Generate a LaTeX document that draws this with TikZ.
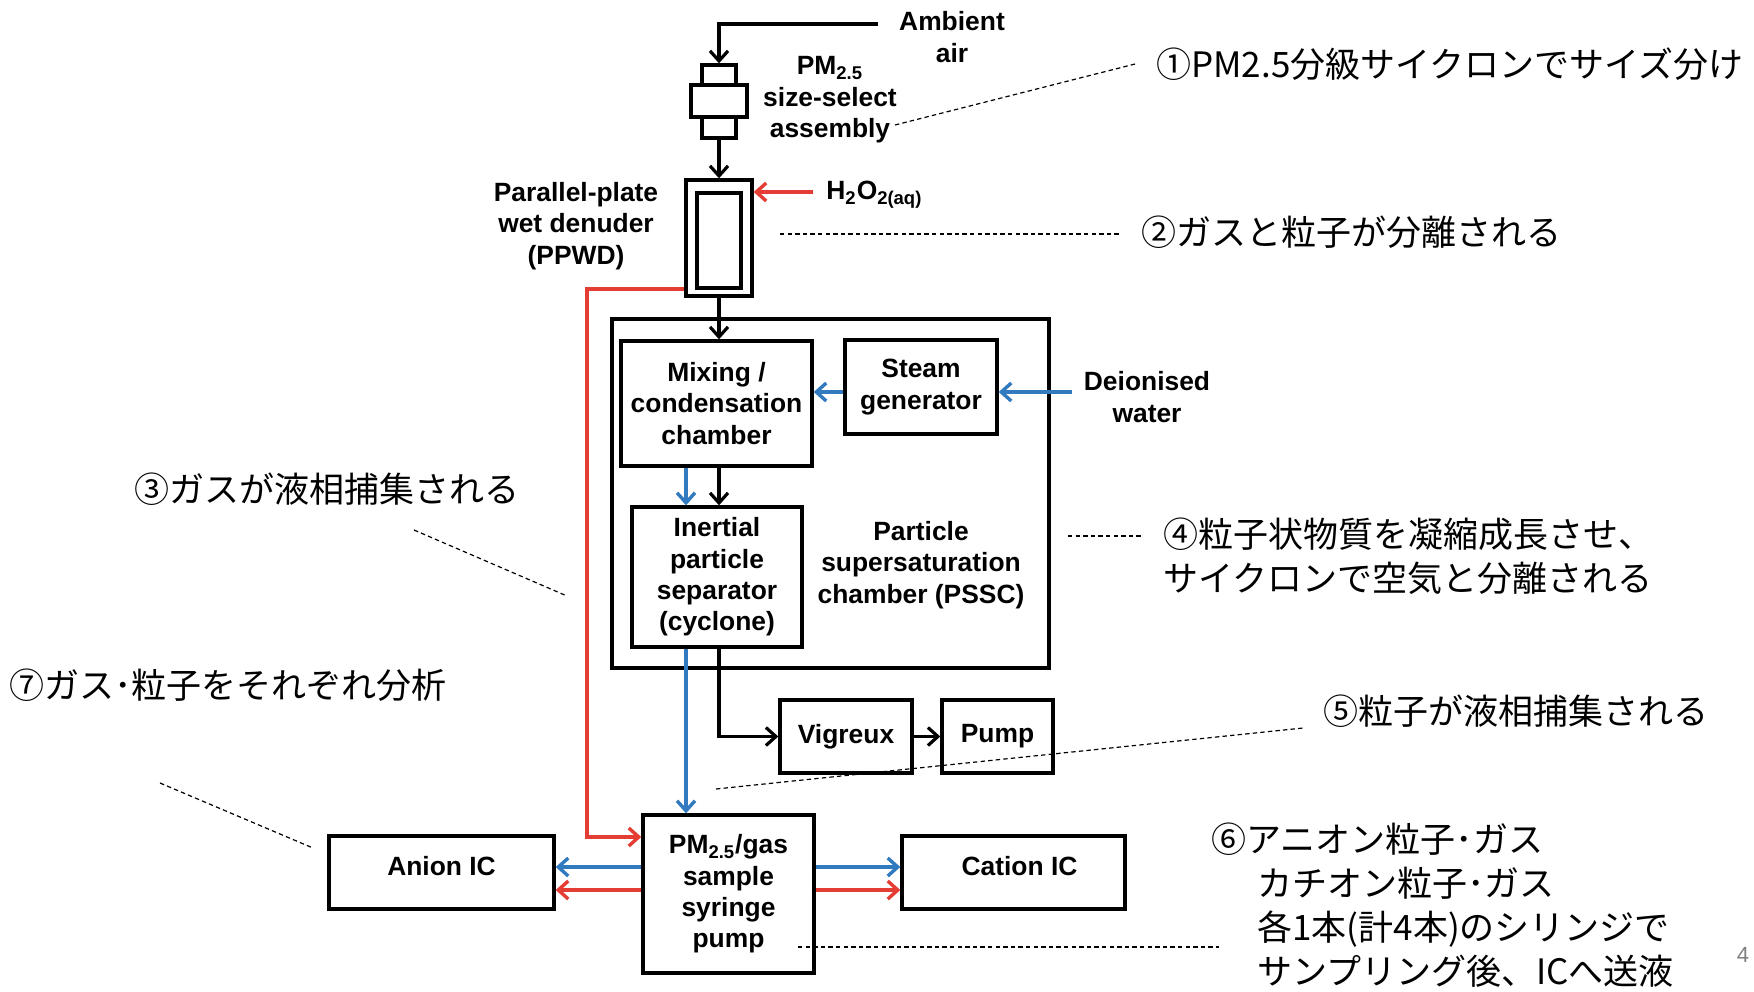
\documentclass[tikz,border=0pt]{standalone}
\usepackage{fontspec}
\setmainfont{Liberation Sans}
\newfontfamily\cjk{Noto Sans CJK JP}
\usetikzlibrary{arrows.meta}
\definecolor{redc}{RGB}{228,62,52}
\definecolor{bluec}{RGB}{50,122,192}
\newcommand{\lab}{\fontsize{13.2pt}{15.7pt}\selectfont\bfseries}
\tikzset{
  box/.style={draw, line width=1.7pt, inner sep=0pt, align=center, font=\lab},
  lbl/.style={inner sep=0pt, align=center, font=\lab},
  tip/.style={-{Straight Barb[length=5pt,width=9pt]}},
  blk/.style={line width=1.6pt, tip},
  redl/.style={draw=redc, line width=1.7pt, tip},
  blul/.style={draw=bluec, line width=1.7pt, tip},
  jp/.style={font=\cjk\fontsize{17.5pt}{22pt}\selectfont, anchor=west, inner sep=0pt, align=left},
  ann/.style={line width=0.6pt, dash pattern=on 2.2pt off 1.6pt},
}
\begin{document}
\begin{tikzpicture}[x=0.5pt,y=-0.5pt]
\fill[white] (0,0) rectangle (1754,991);
\useasboundingbox (0,0) rectangle (1754,991);

% boxes
\node[box, minimum width=218.5pt, minimum height=174.5pt] (pssc) at (830.5,493.5) {};
\node[box, minimum width=17pt, minimum height=10pt] (sstop) at (719,75) {};
\node[box, minimum width=28pt, minimum height=16pt] (ssmid) at (719,101) {};
\node[box, minimum width=17pt, minimum height=10.5pt] (ssbot) at (719,127.5) {};
\node[box, minimum width=33pt, minimum height=58pt] (ppwd) at (719,238) {};
\node[box, minimum width=22pt, minimum height=47.5pt] (ppwdin) at (719,240.5) {};
\node[box, minimum width=95.5pt, minimum height=62.5pt] (mix) at (716.5,403.5) {Mixing /\\condensation\\chamber};
\node[box, minimum width=76pt, minimum height=47pt] (steam) at (921,387) {Steam\\generator};
\node[box, minimum width=85pt, minimum height=70pt] (sep) at (717,577) {Inertial\\particle\\separator\\(cyclone)};
\node[box, minimum width=66pt, minimum height=36.5pt] (vig) at (846,736.5) {Vigreux};
\node[box, minimum width=55.5pt, minimum height=36.5pt] (pump) at (997.5,736.5) {Pump};
\node[box, minimum width=85.5pt, minimum height=79pt] (pm) at (728.5,894) {PM\textsubscript{2.5}/gas\\sample\\syringe\\pump};
\node[box, minimum width=112.5pt, minimum height=36.5pt] (anion) at (441.5,872.5) {};
\node[box, minimum width=111.5pt, minimum height=36.5pt] (cation) at (1013.5,872.5) {};
\node[lbl] (anionl) at ([yshift=3pt]anion.center) {Anion IC};
\node[lbl] (cationl) at ([xshift=3pt,yshift=3pt]cation.center) {Cation IC};

% labels
\node[lbl] (amb) at (952,37) {Ambient\\air};
\node[lbl] (ssl) at (830,100) {PM\textsubscript{2.5}\\size-select\\assembly};
\node[lbl] (ppwdl) at (576,226) {Parallel-plate\\wet denuder\\(PPWD)};
\node[lbl, anchor=west] (h2o2) at (826,195) {H\textsubscript{2}O\textsubscript{2(aq)}};
\node[lbl] (deion) at (1147,397) {Deionised\\water};
\node[lbl] (psscl) at (921,565) {Particle\\supersaturation\\chamber (PSSC)};

% connectors
\coordinate (ambin) at (878,24);
\draw[blk] (ambin) -| (sstop.north);
\draw[blk] (ssbot.south) -- (ppwd.north);
\coordinate (h2o2in) at (813,192);
\draw[redl] (h2o2in) -- (h2o2in -| ppwd.east);
\draw[blk] (ppwd.south) -- (mix.north -| ppwd.south);
\coordinate (r1) at (587,289);
\coordinate (r2) at (587,837);
\draw[redl] (ppwd.west |- r1) -- (r1) -- (r2) -- (r2 -| pm.west);
\coordinate (sy) at (0,392);
\draw[blul] (steam.west |- sy) -- (mix.east |- sy);
\coordinate (dw) at (1072,392);
\draw[blul] (dw) -- (dw -| steam.east);
\coordinate (cb) at (686,0);
\coordinate (ck) at (719,0);
\draw[blul] (mix.south -| cb) -- (sep.north -| cb);
\draw[blk] (mix.south -| ck) -- (sep.north -| ck);
\draw[blul] (sep.south -| cb) -- (pm.north -| cb);
\draw[blk] (sep.south -| ck) |- (vig.west);
\draw[blk] (vig.east) -- (pump.west);
\coordinate (yb) at (0,867);
\coordinate (yr) at (0,890);
\draw[blul] (pm.west |- yb) -- (anion.east |- yb);
\draw[redl] (pm.west |- yr) -- (anion.east |- yr);
\draw[blul] (pm.east |- yb) -- (cation.west |- yb);
\draw[redl] (pm.east |- yr) -- (cation.west |- yr);

% annotations
\node[jp] (n1) at (1156,64) {①PM2.5分級サイクロンでサイズ分け};
\node[jp] (n2) at (1141,232) {②ガスと粒子が分離される};
\node[jp] (n3) at (134,489) {③ガスが液相捕集される};
\node[jp] (n4) at (1163,556) {④粒子状物質を凝縮成長させ、\\サイクロンで空気と分離される};
\node[jp] (n5) at (1323,711) {⑤粒子が液相捕集される};
\node[jp] (n6) at (1211,905) {⑥アニオン粒子･ガス\\\hspace*{23pt}カチオン粒子･ガス\\\hspace*{23pt}各1本(計4本)のシリンジで\\\hspace*{23pt}サンプリング後、ICへ送液};
\node[jp] (n7) at (9,685) {⑦ガス･粒子をそれぞれ分析};
\node[font=\fontsize{11pt}{13pt}\selectfont, text=gray, inner sep=0pt] (pg) at (1743,955) {4};

\coordinate (a1) at (895,125); \coordinate (b1) at (1135,64);
\draw[ann] (a1) -- (b1);
\coordinate (a2) at (780,234); \coordinate (b2) at (1119,234);
\draw[ann] (a2) -- (b2);
\coordinate (a3) at (414,530); \coordinate (b3) at (567,596);
\draw[ann] (a3) -- (b3);
\coordinate (a4) at (1068,536); \coordinate (b4) at (1143,536);
\draw[ann] (a4) -- (b4);
\coordinate (a5) at (716,789); \coordinate (b5) at (1303,728);
\draw[ann] (a5) -- (b5);
\coordinate (a6) at (798,947); \coordinate (b6) at (1219,947);
\draw[ann] (a6) -- (b6);
\coordinate (a7) at (160,783); \coordinate (b7) at (313,848);
\draw[ann] (a7) -- (b7);
\end{tikzpicture}
\end{document}
